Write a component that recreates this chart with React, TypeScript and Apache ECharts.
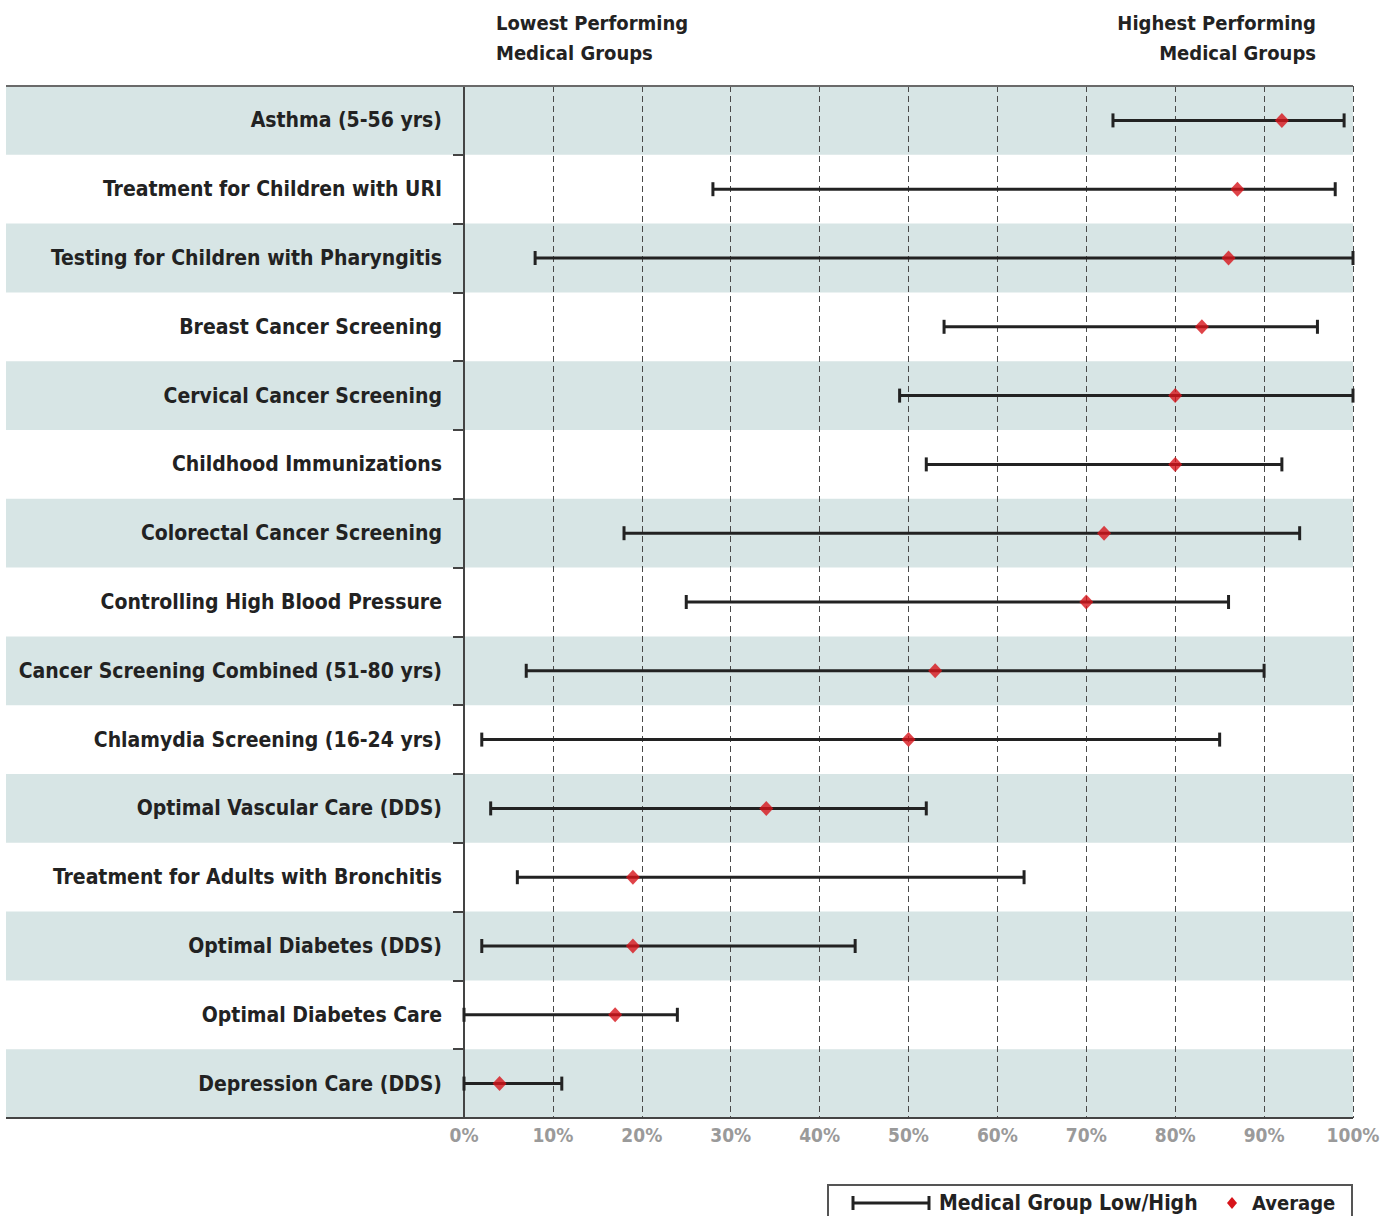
import React, { useEffect, useRef } from "react";
import * as echarts from "echarts";

const categories = [
  "Asthma (5-56 yrs)",
  "Treatment for Children with URI",
  "Testing for Children with Pharyngitis",
  "Breast Cancer Screening",
  "Cervical Cancer Screening",
  "Childhood Immunizations",
  "Colorectal Cancer Screening",
  "Controlling High Blood Pressure",
  "Cancer Screening Combined (51-80 yrs)",
  "Chlamydia Screening (16-24 yrs)",
  "Optimal Vascular Care (DDS)",
  "Treatment for Adults with Bronchitis",
  "Optimal Diabetes (DDS)",
  "Optimal Diabetes Care",
  "Depression Care (DDS)",
];
const lowValues = [73, 28, 8, 54, 49, 52, 18, 25, 7, 2, 3, 6, 2, 0, 0];
const highValues = [99, 98, 100, 96, 100, 92, 94, 86, 90, 85, 52, 63, 44, 24, 11];
const averageValues = [92, 87, 86, 83, 80, 80, 72, 70, 53, 50, 34, 19, 19, 17, 4];
const tickLabels = ["0%", "10%", "20%", "30%", "40%", "50%", "60%", "70%", "80%", "90%", "100%"];

const FONT = "'Liberation Sans Narrow', 'DejaVu Sans Condensed', 'Roboto Condensed', 'Liberation Sans', sans-serif";
const W = 1396;
const H = 1216;
const GL = 464;
const GR = 1353;
const GT = 86;
const GB = 1118;
const STRIPE_LEFT = 6;
const STRIPE = "#d7e5e5";
const INK = "#222222";
const RED = "#d7141a";

export default function App() {
  const ref = useRef<HTMLDivElement>(null);
  useEffect(() => {
    document.body.style.margin = "0";
    if (!ref.current) return;
    const chart = echarts.init(ref.current, null, { renderer: "svg" });
    const option: any = {
      animation: false,
      backgroundColor: "#ffffff",
      grid: {
        left: GL,
        right: W - GR,
        top: GT,
        bottom: H - GB,
        containLabel: false,
        outerBoundsMode: "none",
      },
      xAxis: {
        type: "value",
        min: 0,
        max: 100,
        interval: 10,
        axisLine: { show: false },
        axisTick: { show: false },
        axisLabel: {
          color: "#9a9a9a",
          fontFamily: FONT,
          fontWeight: "bold",
          fontSize: 19,
          margin: 7,
          formatter: (v: number) => tickLabels[Math.round(v / 10)],
        },
        splitLine: {
          show: true,
          lineStyle: { color: "#4a4a4a", width: 1, type: [6, 4] },
        },
      },
      yAxis: {
        type: "category",
        data: categories,
        inverse: true,
        axisLine: { show: true, lineStyle: { color: "#444", width: 2 } },
        axisTick: { show: true, length: 11, lineStyle: { color: "#444", width: 2 } },
        axisLabel: {
          color: INK,
          fontFamily: FONT,
          fontWeight: "bold",
          fontSize: 21,
          margin: 22,
        },
        splitLine: { show: false },
      },
      series: [
        {
          type: "custom",
          name: "stripes",
          z: -1,
          silent: true,
          data: categories.map((_, i) => [i]),
          encode: { y: 0 },
          renderItem: (params: any, api: any) => {
            const i = api.value(0);
            if (i % 2 !== 0) return null;
            const c = api.coord([0, i]);
            const h = api.size([0, 1])[1];
            const cs = params.coordSys;
            return {
              type: "rect",
              shape: { x: STRIPE_LEFT, y: c[1] - h / 2, width: cs.x + cs.width - STRIPE_LEFT, height: h },
              style: { fill: STRIPE },
            };
          },
        },
        {
          type: "custom",
          name: "Medical Group Low/High",
          z: 3,
          data: categories.map((_, i) => [lowValues[i], highValues[i], i]),
          encode: { x: [0, 1], y: 2 },
          renderItem: (params: any, api: any) => {
            const idx = api.value(2);
            const a = api.coord([api.value(0), idx]);
            const b = api.coord([api.value(1), idx]);
            const cap = 7;
            const st = { stroke: INK, lineWidth: 3 };
            return {
              type: "group",
              children: [
                { type: "line", shape: { x1: a[0], y1: a[1], x2: b[0], y2: b[1] }, style: st },
                { type: "line", shape: { x1: a[0], y1: a[1] - cap, x2: a[0], y2: a[1] + cap }, style: st },
                { type: "line", shape: { x1: b[0], y1: b[1] - cap, x2: b[0], y2: b[1] + cap }, style: st },
              ],
            };
          },
        },
        {
          type: "scatter",
          name: "Average",
          z: 4,
          symbol: "diamond",
          symbolSize: [14, 15],
          itemStyle: { color: RED },
          data: categories.map((_, i) => [averageValues[i], i]),
        },
      ],
      graphic: [
        {
          type: "line",
          shape: { x1: STRIPE_LEFT, y1: GT, x2: GR, y2: GT },
          style: { stroke: "#6a6a6a", lineWidth: 2 },
          z: 10,
        },
        {
          type: "line",
          shape: { x1: STRIPE_LEFT, y1: GB, x2: GR, y2: GB },
          style: { stroke: "#444", lineWidth: 2 },
          z: 10,
        },
        {
          type: "text",
          left: 496,
          top: 8,
          style: {
            text: "Lowest Performing\nMedical Groups",
            fontFamily: FONT,
            fontWeight: "bold",
            fontSize: 20,
            lineHeight: 30,
            fill: INK,
            textAlign: "left",
          },
        },
        {
          type: "text",
          right: W - 1316,
          top: 8,
          style: {
            text: "Highest Performing\nMedical Groups",
            fontFamily: FONT,
            fontWeight: "bold",
            fontSize: 20,
            lineHeight: 30,
            fill: INK,
            textAlign: "right",
          },
        },
        {
          type: "group",
          left: 827,
          top: 1184,
          children: [
            {
              type: "rect",
              shape: { x: 0, y: 0, width: 524, height: 40 },
              style: { fill: "#fff", stroke: "#555", lineWidth: 2 },
            },
            { type: "line", shape: { x1: 25, y1: 18, x2: 101, y2: 18 }, style: { stroke: INK, lineWidth: 3 } },
            { type: "line", shape: { x1: 25, y1: 11, x2: 25, y2: 25 }, style: { stroke: INK, lineWidth: 3 } },
            { type: "line", shape: { x1: 101, y1: 11, x2: 101, y2: 25 }, style: { stroke: INK, lineWidth: 3 } },
            {
              type: "text",
              x: 111,
              y: 18,
              style: {
                text: "Medical Group Low/High",
                fontFamily: FONT,
                fontWeight: "bold",
                fontSize: 21,
                fill: INK,
                verticalAlign: "middle",
              },
            },
            {
              type: "polygon",
              shape: { points: [[404, 12], [409, 18], [404, 24], [399, 18]] },
              style: { fill: RED },
            },
            {
              type: "text",
              x: 424,
              y: 18,
              style: {
                text: "Average",
                fontFamily: FONT,
                fontWeight: "bold",
                fontSize: 20,
                fill: INK,
                verticalAlign: "middle",
              },
            },
          ],
        },
      ],
    };
    chart.setOption(option);
    return () => chart.dispose();
  }, []);
  return <div ref={ref} style={{ width: W, height: H }} />;
}
